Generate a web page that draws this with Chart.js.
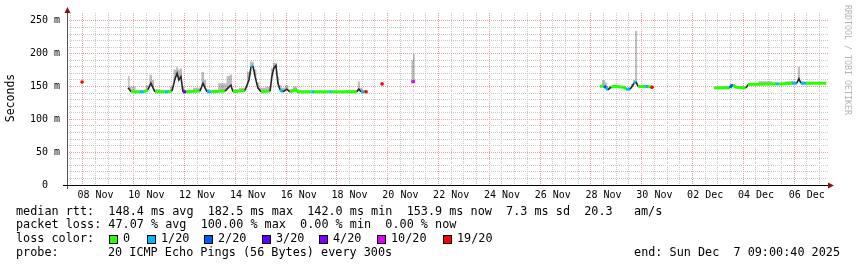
<!DOCTYPE html>
<html>
<head>
<meta charset="utf-8">
<script src="https://cdn.jsdelivr.net/npm/chart.js@4.4.1/dist/chart.umd.min.js"></script>
<style>
  html, body { margin: 0; padding: 0; background: #fff; }
  #wrap { width: 857px; height: 267px; }
</style>
</head>
<body>
<div id="wrap"><canvas id="ping-chart" width="857" height="267"></canvas></div>
<script>
// x values are days: 8.0 = 08 Nov 00:00, 31.0 = 01 Dec 00:00
const times = [
  7.97, 9.0,
  9.78, 9.90, 10.25, 10.40, 10.56, 10.68, 10.76, 10.84, 11.23, 11.35, 11.51, 11.63, 11.71, 11.78,
  11.86, 11.94, 12.06, 12.61, 12.73, 12.81, 12.89, 13.05, 13.60, 13.72, 13.83, 13.91, 14.38, 14.54,
  14.62, 14.70, 14.78, 14.89, 15.01, 15.37, 15.44, 15.52, 15.60, 15.68, 15.76, 15.88, 16.03, 16.15,
  16.39, 16.47, 17.00, 17.10, 17.70, 17.80, 18.79, 18.86, 18.95, 19.07, 19.15, 19.5,
  19.78, 20.3,
  20.93, 21.07, 21.5,
  28.36, 28.52, 28.60, 28.68, 28.79, 28.91, 29.30, 29.38, 29.54, 29.62, 29.70, 29.78, 29.86, 30.14,
  30.25, 30.41, 31.0,
  32.85, 33.48, 33.52, 33.60, 33.71, 34.11, 34.19, 35.00, 35.29, 35.40, 35.92, 36.11, 36.19, 36.27,
  36.47, 37.27
];
// median round trip time, ms (null = no answer)
const medianRtt = [
  157, null,
  148, 142, 142, 142, 145, 155, 148, 142, 142, 142, 143, 162, 170, 160,
  165, 142, 142, 143, 155, 148, 142, 142, 143, 148, 152, 142, 144, 160,
  180, 181, 165, 148, 142, 143, 165, 178, 182, 155, 145, 142, 146, 142,
  145, 142, 142, 142, 142, 142, 142, 146, 142, 142, 142, null,
  154, null,
  157, 158, null,
  150, 151, 148, 145, 149, 150, 149, 146, 146, 150, 155, 157, 150, 150,
  150, 149, null,
  148, 148, 151, 152, 149, 148, 153, 154, 154, 154, 155, 155, 162, 155,
  155, 155
];
// lost pings out of 20 (colour of the stretch that starts at this point)
const lossCount = [
  19, null,
  10, 0, 1, 0, 0, 1, 0, 0, 1, 0, 0, 0, 1, 0,
  0, 3, 0, 0, 0, 0, 1, 0, 0, 0, 0, 0, 0, 0,
  1, 1, 0, 1, 0, 0, 1, 0, 1, 1, 1, 0, 0, 0,
  0, 0, 1, 0, 1, 0, 0, 1, 1, 0, 19, null,
  19, null,
  10, 1, null,
  0, 2, 1, 1, 0, 0, 0, 1, 1, 0, 1, 2, 0, 1,
  0, 19, null,
  0, 2, 2, 0, 0, 0, 0, 0, 1, 0, 1, 0, 1, 1,
  0, 0
];
// top edge of the smoke (slowest pings), ms
const smokeTop = [
  158, null,
  166, 150, 144, 144, 152, 168, 160, 146, 144, 144, 150, 176, 180, 176,
  178, 150, 144, 148, 172, 160, 146, 144, 155, 166, 168, 146, 148, 172,
  188, 187, 176, 156, 148, 150, 178, 186, 186, 165, 152, 148, 152, 146,
  150, 144, 143, 143, 143, 143, 144, 158, 148, 144, 143, null,
  155, null,
  190, 200, null,
  151, 160, 156, 150, 151, 151, 150, 148, 148, 154, 160, 235, 152, 151,
  151, 150, null,
  149, 150, 154, 154, 150, 149, 154, 158, 156, 155, 158, 156, 180, 158,
  156, 156
];

const dayLabels = ['08 Nov', '10 Nov', '12 Nov', '14 Nov', '16 Nov', '18 Nov', '20 Nov', '22 Nov',
  '24 Nov', '26 Nov', '28 Nov', '30 Nov', '02 Dec', '04 Dec', '06 Dec'];
const labelDays = [8.5, 10.5, 12.5, 14.5, 16.5, 18.5, 20.5, 22.5, 24.5, 26.5, 28.5, 30.5, 32.5, 34.5, 36.5];
const yLabels = { 0: '0  ', 50: '50 m', 100: '100 m', 150: '150 m', 200: '200 m', 250: '250 m' };

const lossSteps = [0, 1, 2, 3, 4, 10, 19];
const lossNames = ['0', '1/20', '2/20', '3/20', '4/20', '10/20', '19/20'];
const lossColors = ['#26ff00', '#00b8ff', '#0059ff', '#5e00ff', '#7e00ff', '#dd00ff', '#ff0000'];

const xStart = 7.375, xEnd = 37.375;
const MAJOR = '#eba0a0', MINOR = '#c8c8c8';
const MONO = '"DejaVu Sans Mono", monospace';

function lossColor(n) {
  let c = lossColors[0];
  lossSteps.forEach(function (s, i) { if (n >= s) c = lossColors[i]; });
  return c;
}

function isolated(i) {
  return medianRtt[i] !== null &&
    (i === 0 || medianRtt[i - 1] === null) &&
    (i === medianRtt.length - 1 || medianRtt[i + 1] === null);
}

// grid every 12 hours
const xGrid = [];
for (let d = 7.5; d <= 37; d += 0.5) xGrid.push(d);
const yGrid = [];
for (let v = 0; v <= 250; v += 10) yGrid.push(v);

const decor = {
  id: 'decor',
  afterDraw(chart) {
    const ctx = chart.ctx;
    const a = chart.chartArea;
    ctx.save();

    // axes
    ctx.lineWidth = 1;
    ctx.strokeStyle = '#555';
    ctx.beginPath(); ctx.moveTo(67.5, 189); ctx.lineTo(67.5, 10); ctx.stroke();
    ctx.strokeStyle = '#000';
    ctx.beginPath(); ctx.moveTo(63, a.bottom + 0.5); ctx.lineTo(830, a.bottom + 0.5); ctx.stroke();
    ctx.fillStyle = '#8b1010';
    ctx.beginPath(); ctx.moveTo(67.5, 7); ctx.lineTo(64.5, 13); ctx.lineTo(70.5, 13); ctx.closePath(); ctx.fill();
    ctx.beginPath(); ctx.moveTo(834, a.bottom + 0.5); ctx.lineTo(828, a.bottom - 2.5); ctx.lineTo(828, a.bottom + 3.5); ctx.closePath(); ctx.fill();

    // axis title
    ctx.fillStyle = '#000';
    ctx.font = '11.5px ' + MONO;
    ctx.textAlign = 'center';
    ctx.textBaseline = 'middle';
    ctx.save();
    ctx.translate(11, 98);
    ctx.rotate(-Math.PI / 2);
    ctx.fillText('Seconds', 0, 0);
    ctx.restore();

    // watermark
    ctx.save();
    ctx.fillStyle = '#b4b4b4';
    ctx.font = '8.3px ' + MONO;
    ctx.translate(847, 60);
    ctx.rotate(Math.PI / 2);
    ctx.fillText('RRDTOOL / TOBI OETIKER', 0, 0);
    ctx.restore();

    // legend block
    ctx.fillStyle = '#000';
    ctx.font = '11.8px ' + MONO;
    ctx.textAlign = 'left';
    const put = function (s, x, y) { ctx.fillText(s, x, y); };
    put('median rtt:  148.4 ms avg  182.5 ms max  142.0 ms min  153.9 ms now  7.3 ms sd  20.3   am/s', 16, 212);
    put('packet loss: 47.07 % avg  100.00 % max  0.00 % min  0.00 % now', 16, 225);

    put('loss color:', 16, 239);
    const boxX = [109, 147, 204, 262, 319, 377, 443];
    lossNames.forEach(function (name, i) {
      ctx.fillStyle = lossColors[i];
      ctx.fillRect(boxX[i], 235, 9, 9);
      ctx.strokeStyle = '#000';
      ctx.strokeRect(boxX[i] + 0.5, 235.5, 8, 8);
      ctx.fillStyle = '#000';
      put(name, boxX[i] + 14, 239);
    });

    put('probe:', 16, 253);
    put('20 ICMP Echo Pings (56 Bytes) every 300s', 108, 253);
    ctx.textAlign = 'right';
    put('end: Sun Dec  7 09:00:40 2025', 840, 253);
    ctx.restore();
  }
};

const ctx = document.getElementById('ping-chart').getContext('2d');
const chart = new Chart(ctx, {
  type: 'line',
  data: {
    datasets: [{
      label: 'median rtt',
      data: times.map(function (t, i) { return { x: t, y: medianRtt[i] }; }),
      borderWidth: 3,
      borderColor: '#26ff00',
      borderCapStyle: 'butt',
      spanGaps: false,
      tension: 0,
      pointRadius: function (c) {
        const i = c.dataIndex;
        return (isolated(i) || lossCount[i] >= 19) ? 1.8 : 0;
      },
      pointBorderWidth: 0,
      pointBackgroundColor: function (c) { return lossColor(lossCount[c.dataIndex]); },
      segment: {
        borderColor: function (c) {
          if (Math.abs(c.p1.parsed.y - c.p0.parsed.y) >= 4) return '#262626';
          return lossColor(lossCount[c.p0DataIndex]);
        },
        borderWidth: function (c) {
          return Math.abs(c.p1.parsed.y - c.p0.parsed.y) >= 4 ? 1.6 : 3;
        }
      }
    }, {
      label: 'smoke',
      data: times.map(function (t, i) { return { x: t, y: smokeTop[i] }; }),
      borderWidth: 0,
      pointRadius: 0,
      stepped: 'middle',
      spanGaps: false,
      fill: '-1',
      backgroundColor: 'rgba(80,80,80,0.38)'
    }]
  },
  options: {
    responsive: false,
    animation: false,
    layout: { padding: { top: 13, right: 28, left: 0, bottom: 0 } },
    plugins: { legend: { display: false }, tooltip: { enabled: false } },
    scales: {
      x: {
        type: 'linear',
        min: xStart,
        max: xEnd,
        afterBuildTicks: function (s) { s.ticks = xGrid.map(function (v) { return { value: v }; }); },
        afterFit: function (s) { s.height = 82; },
        ticks: {
          autoSkip: false,
          maxRotation: 0,
          padding: 4,
          color: '#000',
          font: { family: MONO, size: 10 },
          callback: function (v) {
            const j = labelDays.indexOf(v);
            return j >= 0 ? dayLabels[j] : '';
          }
        },
        grid: {
          drawTicks: false,
          lineWidth: 1,
          color: function (c) { return c.tick && c.tick.value % 2 === 0 ? MAJOR : MINOR; }
        },
        border: { display: false, dash: [1, 1] }
      },
      y: {
        min: 0,
        max: 262,
        afterBuildTicks: function (s) { s.ticks = yGrid.map(function (v) { return { value: v }; }); },
        afterFit: function (s) { s.width = 67; },
        ticks: {
          autoSkip: false,
          padding: 7,
          color: '#000',
          font: { family: MONO, size: 10 },
          callback: function (v) { return yLabels[v] !== undefined ? yLabels[v] : ''; }
        },
        grid: {
          drawTicks: false,
          lineWidth: 1,
          color: function (c) { return c.tick && c.tick.value % 50 === 0 ? MAJOR : MINOR; }
        },
        border: { display: false, dash: [1, 1] }
      }
    }
  },
  plugins: [decor]
});
</script>
</body>
</html>
